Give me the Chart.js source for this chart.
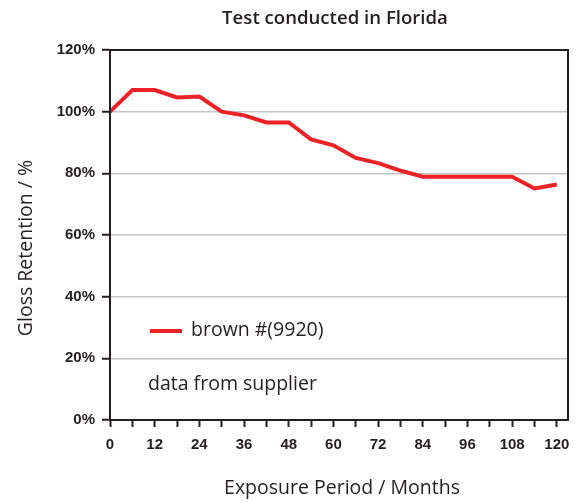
<!DOCTYPE html>
<html>
<head>
<meta charset="utf-8">
<script src="https://cdn.jsdelivr.net/npm/chart.js@4"></script>
<style>
  html, body { margin: 0; padding: 0; background: #fff; }
  #wrap { width: 587px; height: 503px; }
</style>
</head>
<body>
<div id="wrap"><canvas id="glossChart" width="587" height="503"></canvas></div>
<script>
var months = [0, 6, 12, 18, 24, 30, 36, 42, 48, 54, 60, 66, 72, 78, 84, 90, 96, 102, 108, 114, 120];
var glossBrown = [100, 107, 107, 104.6, 104.9, 100, 98.8, 96.5, 96.5, 91, 89.1, 85, 83.3, 80.9, 78.9, 78.9, 78.9, 78.9, 78.9, 75.1, 76.4];
var xTicks = [0, 6, 12, 18, 24, 30, 36, 42, 48, 54, 60, 66, 72, 78, 84, 90, 96, 102, 108, 114, 120];
var yTicks = [0, 20, 40, 60, 80, 100, 120];

var chartTitle = "Test conducted in Florida";
var xTitle = "Exposure Period / Months";
var yTitle = "Gloss Retention / %";
var seriesName = "brown #(9920)";
var note = "data from supplier";

var red = "#ed2227";
var ink = "#231f20";
var textFont = '"Open Sans", sans-serif';
var tickFont = { family: '"Liberation Sans", Arial, sans-serif', size: 15, weight: "bold" };

// texts, legend and the box round the plot
var decorPlugin = {
  id: "decor",
  afterDatasetsDraw: function (chart) {
    var c = chart.ctx, a = chart.chartArea;
    c.save();
    c.strokeStyle = ink;
    c.lineWidth = 2;
    c.strokeRect(a.left, a.top, a.right - a.left, a.bottom - a.top);

    c.fillStyle = ink;
    c.textBaseline = "middle";
    c.textAlign = "center";
    c.font = "600 18.6px " + textFont;
    c.fillText(chartTitle, 335, 19);
    c.font = "500 19.5px " + textFont;
    c.fillText(xTitle, 342, 488);

    c.save();
    c.translate(26, 248);
    c.rotate(-Math.PI / 2);
    c.fillText(yTitle, 0, 0);
    c.restore();

    c.strokeStyle = red;
    c.lineWidth = 4;
    c.beginPath();
    c.moveTo(150, 331);
    c.lineTo(182, 331);
    c.stroke();

    c.textAlign = "left";
    c.fillText(seriesName, 191, 330);
    c.fillText(note, 148, 384);
    c.restore();
  }
};

new Chart(document.getElementById("glossChart"), {
  type: "line",
  data: {
    datasets: [{
      label: seriesName,
      data: months.map((m, i) => ({ x: m, y: glossBrown[i] })),
      borderColor: red,
      borderWidth: 4,
      pointRadius: 0,
      tension: 0,
      fill: false
    }]
  },
  options: {
    responsive: false,
    animation: false,
    layout: { padding: { top: 50, right: 19, left: 0, bottom: 0 } },
    plugins: {
      legend: { display: false },
      tooltip: { enabled: false },
      title: { display: false }
    },
    scales: {
      x: {
        type: "linear",
        min: 0,
        max: 123,
        afterBuildTicks: axis => { axis.ticks = xTicks.map(v => ({ value: v })); },
        afterFit: scale => { scale.height = 83; },
        grid: { drawOnChartArea: false, tickLength: 7, tickColor: ink, tickWidth: 2 },
        border: { color: ink, width: 2 },
        ticks: {
          autoSkip: false,
          maxRotation: 0,
          padding: 9,
          color: ink,
          font: tickFont,
          callback: v => (v % 12 === 0 ? v : "")
        }
      },
      y: {
        min: 0,
        max: 120,
        afterBuildTicks: axis => { axis.ticks = yTicks.map(v => ({ value: v })); },
        afterFit: scale => { scale.width = 110; },
        grid: { color: "#c4c4c4", lineWidth: 1.5, tickLength: 8, tickColor: ink, tickWidth: 2 },
        border: { color: ink, width: 2 },
        ticks: {
          padding: 7,
          color: ink,
          font: tickFont,
          callback: v => v + "%"
        }
      }
    }
  },
  plugins: [decorPlugin]
});
</script>
</body>
</html>
